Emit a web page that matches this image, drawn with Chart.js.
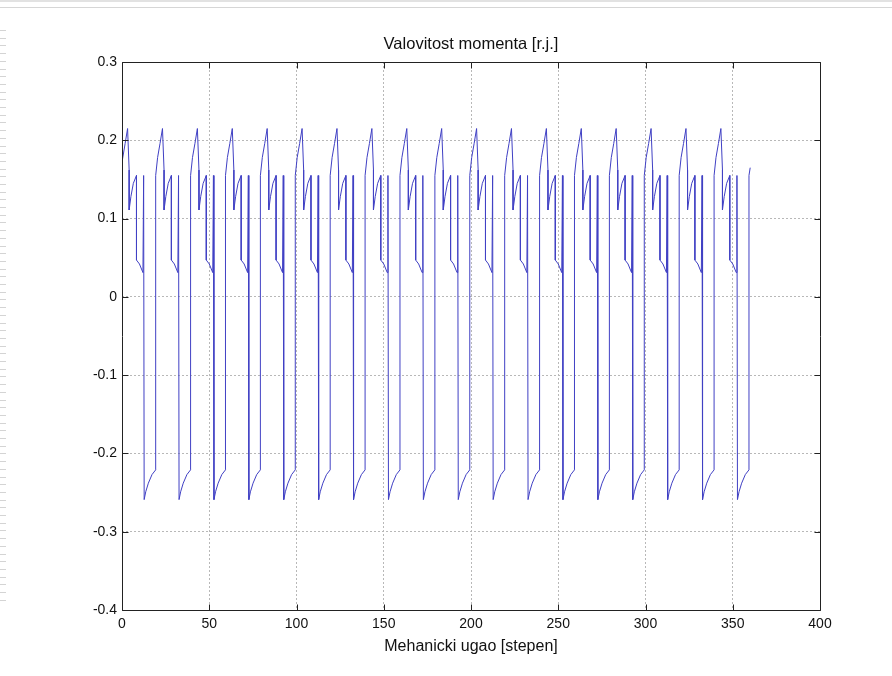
<!DOCTYPE html>
<html>
<head>
<meta charset="utf-8">
<title>Valovitost momenta</title>
<script src="https://cdn.jsdelivr.net/npm/chart.js@4.4.0/dist/chart.umd.min.js"></script>
<style>
  html, body { margin: 0; padding: 0; background: #fff; }
  canvas { display: block; }
</style>
</head>
<body>
<canvas id="torqueChart" width="892" height="676"></canvas>
<script>
// mehanicki ugao [stepen] (one row per 20 degree ripple)
const angle = [
  0, 1.8, 3.2, 4.1, 4.1, 5.1, 6.5, 8.3, 8.3, 10, 12, 12.4, 12.7, 13.6, 15.1, 17.2,
  19.3, 19.3, 20.4, 21.8, 23.2, 24.1, 24.1, 25.1, 26.5, 28.3, 28.3, 30, 32, 32.4, 32.7, 33.6, 35.1, 37.2,
  39.3, 39.3, 40.4, 41.8, 43.2, 44.1, 44.1, 45.1, 46.5, 48.3, 48.3, 50, 52, 52.4, 52.7, 53.6, 55.1, 57.2,
  59.3, 59.3, 60.4, 61.8, 63.2, 64.1, 64.1, 65.1, 66.5, 68.3, 68.3, 70, 72, 72.4, 72.7, 73.6, 75.1, 77.2,
  79.3, 79.3, 80.4, 81.8, 83.2, 84.1, 84.1, 85.1, 86.5, 88.3, 88.3, 90, 92, 92.4, 92.7, 93.6, 95.1, 97.2,
  99.3, 99.3, 100.4, 101.8, 103.2, 104.1, 104.1, 105.1, 106.5, 108.3, 108.3, 110, 112, 112.4, 112.7, 113.6, 115.1, 117.2,
  119.3, 119.3, 120.4, 121.8, 123.2, 124.1, 124.1, 125.1, 126.5, 128.3, 128.3, 130, 132, 132.4, 132.7, 133.6, 135.1, 137.2,
  139.3, 139.3, 140.4, 141.8, 143.2, 144.1, 144.1, 145.1, 146.5, 148.3, 148.3, 150, 152, 152.4, 152.7, 153.6, 155.1, 157.2,
  159.3, 159.3, 160.4, 161.8, 163.2, 164.1, 164.1, 165.1, 166.5, 168.3, 168.3, 170, 172, 172.4, 172.7, 173.6, 175.1, 177.2,
  179.3, 179.3, 180.4, 181.8, 183.2, 184.1, 184.1, 185.1, 186.5, 188.3, 188.3, 190, 192, 192.4, 192.7, 193.6, 195.1, 197.2,
  199.3, 199.3, 200.4, 201.8, 203.2, 204.1, 204.1, 205.1, 206.5, 208.3, 208.3, 210, 212, 212.4, 212.7, 213.6, 215.1, 217.2,
  219.3, 219.3, 220.4, 221.8, 223.2, 224.1, 224.1, 225.1, 226.5, 228.3, 228.3, 230, 232, 232.4, 232.7, 233.6, 235.1, 237.2,
  239.3, 239.3, 240.4, 241.8, 243.2, 244.1, 244.1, 245.1, 246.5, 248.3, 248.3, 250, 252, 252.4, 252.7, 253.6, 255.1, 257.2,
  259.3, 259.3, 260.4, 261.8, 263.2, 264.1, 264.1, 265.1, 266.5, 268.3, 268.3, 270, 272, 272.4, 272.7, 273.6, 275.1, 277.2,
  279.3, 279.3, 280.4, 281.8, 283.2, 284.1, 284.1, 285.1, 286.5, 288.3, 288.3, 290, 292, 292.4, 292.7, 293.6, 295.1, 297.2,
  299.3, 299.3, 300.4, 301.8, 303.2, 304.1, 304.1, 305.1, 306.5, 308.3, 308.3, 310, 312, 312.4, 312.7, 313.6, 315.1, 317.2,
  319.3, 319.3, 320.4, 321.8, 323.2, 324.1, 324.1, 325.1, 326.5, 328.3, 328.3, 330, 332, 332.4, 332.7, 333.6, 335.1, 337.2,
  339.3, 339.3, 340.4, 341.8, 343.2, 344.1, 344.1, 345.1, 346.5, 348.3, 348.3, 350, 352, 352.4, 352.7, 353.6, 355.1, 357.2,
  359.3, 359.3, 360
];

// valovitost momenta [r.j.]
const torque = [
  0.172, 0.196, 0.215, 0.162, 0.111, 0.128, 0.145, 0.155, 0.047, 0.042, 0.031, 0.155, -0.259, -0.249, -0.238, -0.227,
  -0.221, 0.155, 0.178, 0.196, 0.215, 0.162, 0.111, 0.128, 0.145, 0.155, 0.047, 0.042, 0.031, 0.155, -0.259, -0.249, -0.238, -0.227,
  -0.221, 0.155, 0.178, 0.196, 0.215, 0.162, 0.111, 0.128, 0.145, 0.155, 0.047, 0.042, 0.031, 0.155, -0.259, -0.249, -0.238, -0.227,
  -0.221, 0.155, 0.178, 0.196, 0.215, 0.162, 0.111, 0.128, 0.145, 0.155, 0.047, 0.042, 0.031, 0.155, -0.259, -0.249, -0.238, -0.227,
  -0.221, 0.155, 0.178, 0.196, 0.215, 0.162, 0.111, 0.128, 0.145, 0.155, 0.047, 0.042, 0.031, 0.155, -0.259, -0.249, -0.238, -0.227,
  -0.221, 0.155, 0.178, 0.196, 0.215, 0.162, 0.111, 0.128, 0.145, 0.155, 0.047, 0.042, 0.031, 0.155, -0.259, -0.249, -0.238, -0.227,
  -0.221, 0.155, 0.178, 0.196, 0.215, 0.162, 0.111, 0.128, 0.145, 0.155, 0.047, 0.042, 0.031, 0.155, -0.259, -0.249, -0.238, -0.227,
  -0.221, 0.155, 0.178, 0.196, 0.215, 0.162, 0.111, 0.128, 0.145, 0.155, 0.047, 0.042, 0.031, 0.155, -0.259, -0.249, -0.238, -0.227,
  -0.221, 0.155, 0.178, 0.196, 0.215, 0.162, 0.111, 0.128, 0.145, 0.155, 0.047, 0.042, 0.031, 0.155, -0.259, -0.249, -0.238, -0.227,
  -0.221, 0.155, 0.178, 0.196, 0.215, 0.162, 0.111, 0.128, 0.145, 0.155, 0.047, 0.042, 0.031, 0.155, -0.259, -0.249, -0.238, -0.227,
  -0.221, 0.155, 0.178, 0.196, 0.215, 0.162, 0.111, 0.128, 0.145, 0.155, 0.047, 0.042, 0.031, 0.155, -0.259, -0.249, -0.238, -0.227,
  -0.221, 0.155, 0.178, 0.196, 0.215, 0.162, 0.111, 0.128, 0.145, 0.155, 0.047, 0.042, 0.031, 0.155, -0.259, -0.249, -0.238, -0.227,
  -0.221, 0.155, 0.178, 0.196, 0.215, 0.162, 0.111, 0.128, 0.145, 0.155, 0.047, 0.042, 0.031, 0.155, -0.259, -0.249, -0.238, -0.227,
  -0.221, 0.155, 0.178, 0.196, 0.215, 0.162, 0.111, 0.128, 0.145, 0.155, 0.047, 0.042, 0.031, 0.155, -0.259, -0.249, -0.238, -0.227,
  -0.221, 0.155, 0.178, 0.196, 0.215, 0.162, 0.111, 0.128, 0.145, 0.155, 0.047, 0.042, 0.031, 0.155, -0.259, -0.249, -0.238, -0.227,
  -0.221, 0.155, 0.178, 0.196, 0.215, 0.162, 0.111, 0.128, 0.145, 0.155, 0.047, 0.042, 0.031, 0.155, -0.259, -0.249, -0.238, -0.227,
  -0.221, 0.155, 0.178, 0.196, 0.215, 0.162, 0.111, 0.128, 0.145, 0.155, 0.047, 0.042, 0.031, 0.155, -0.259, -0.249, -0.238, -0.227,
  -0.221, 0.155, 0.178, 0.196, 0.215, 0.162, 0.111, 0.128, 0.145, 0.155, 0.047, 0.042, 0.031, 0.155, -0.259, -0.249, -0.238, -0.227,
  -0.221, 0.155, 0.165
];

const xTicks = [0, 50, 100, 150, 200, 250, 300, 350, 400];
const yTicks = [-0.4, -0.3, -0.2, -0.1, 0, 0.1, 0.2, 0.3];
const chartTitle = 'Valovitost momenta [r.j.]';
const xTitle = 'Mehanicki ugao [stepen]';

const FONT = "'Liberation Sans', Arial, Helvetica, sans-serif";

const points = angle.map((a, i) => ({ x: a, y: torque[i] }));

// page decoration + matlab style box with ticks pointing inward
const matlabBox = {
  id: 'matlabBox',
  beforeDraw(chart) {
    const ctx = chart.ctx;
    ctx.save();
    ctx.fillStyle = '#fff';
    ctx.fillRect(0, 0, chart.width, chart.height);
    ctx.fillStyle = '#e2e2e2';
    ctx.fillRect(0, 0, chart.width, 2);
    ctx.fillStyle = '#d6d6d6';
    ctx.fillRect(0, 7, chart.width, 1);
    ctx.fillStyle = '#d4d4d4';
    for (let yy = 30; yy < 606; yy += 7.7) {
      ctx.fillRect(0, Math.round(yy), 6, 1);
    }
    ctx.restore();
  },
  afterDraw(chart) {
    const { ctx, chartArea: a, scales: { x, y } } = chart;
    ctx.save();
    ctx.strokeStyle = '#222';
    ctx.lineWidth = 1;
    const L = Math.round(a.left) + 0.5, R = Math.round(a.right) + 0.5;
    const T = Math.round(a.top) + 0.5, B = Math.round(a.bottom) + 0.5;
    ctx.beginPath();
    ctx.rect(L, T, R - L, B - T);
    x.ticks.forEach(t => {
      const px = Math.round(x.getPixelForValue(t.value)) + 0.5;
      ctx.moveTo(px, B); ctx.lineTo(px, B - 6);
      ctx.moveTo(px, T); ctx.lineTo(px, T + 6);
    });
    y.ticks.forEach(t => {
      const py = Math.round(y.getPixelForValue(t.value)) + 0.5;
      ctx.moveTo(L, py); ctx.lineTo(L + 6, py);
      ctx.moveTo(R, py); ctx.lineTo(R - 6, py);
    });
    ctx.stroke();

    // title centred over the axes box, like matlab
    ctx.fillStyle = '#111';
    ctx.font = '16.5px ' + FONT;
    ctx.textAlign = 'center';
    ctx.textBaseline = 'middle';
    ctx.fillText(chartTitle, (a.left + a.right) / 2, a.top - 18);
    ctx.restore();
  }
};

const ctx = document.getElementById('torqueChart');
new Chart(ctx, {
  type: 'scatter',
  data: {
    datasets: [{
      label: 'Valovitost momenta',
      data: points,
      showLine: true,
      borderColor: '#4040c4',
      borderWidth: 1,
      pointRadius: 0,
      tension: 0,
      fill: false
    }]
  },
  options: {
    responsive: false,
    animation: false,
    layout: { padding: { left: 0, right: 72, top: 62, bottom: 0 } },
    plugins: {
      legend: { display: false },
      tooltip: { enabled: false },
      title: { display: false }
    },
    scales: {
      x: {
        type: 'linear',
        min: 0,
        max: 400,
        afterBuildTicks: s => { s.ticks = xTicks.map(v => ({ value: v })); },
        afterFit: s => { s.height = 66; },
        ticks: {
          color: '#111',
          padding: 6,
          maxRotation: 0,
          font: { family: FONT, size: 14 }
        },
        grid: { color: '#b8b8b8', lineWidth: 1, drawTicks: false },
        border: { display: false, dash: [2, 2] },
        title: {
          display: true,
          text: xTitle,
          color: '#111',
          font: { family: FONT, size: 16 },
          padding: { top: 0, bottom: 20 }
        }
      },
      y: {
        type: 'linear',
        min: -0.4,
        max: 0.3,
        afterBuildTicks: s => { s.ticks = yTicks.map(v => ({ value: v })); },
        afterFit: s => { s.width = 122; },
        ticks: {
          color: '#111',
          padding: 5,
          font: { family: FONT, size: 14 },
          callback: v => {
            const r = Math.round(v * 10) / 10;
            return r === 0 ? '0' : String(r);
          }
        },
        grid: { color: '#b8b8b8', lineWidth: 1, drawTicks: false },
        border: { display: false, dash: [2, 2] }
      }
    }
  },
  plugins: [matlabBox]
});
</script>
</body>
</html>
